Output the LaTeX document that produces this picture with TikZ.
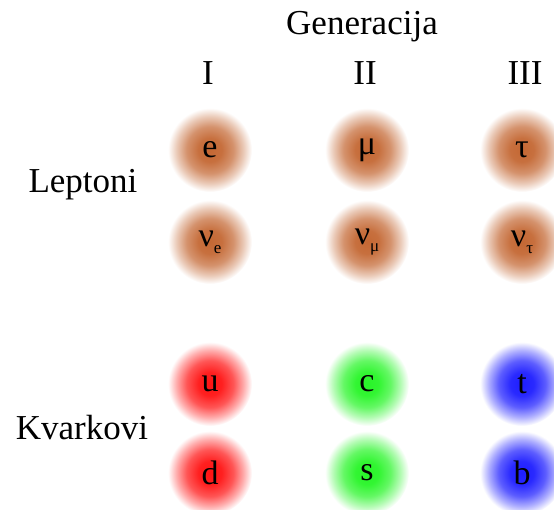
\documentclass[tikz,border=0pt]{standalone}
\usepackage{fontspec}
\setmainfont{Liberation Serif}
\definecolor{leptonbrown}{RGB}{196,104,52}
\definecolor{quarkred}{RGB}{255,20,20}
\definecolor{quarkgreen}{RGB}{40,245,40}
\definecolor{quarkblue}{RGB}{30,30,255}
\pgfdeclareradialshading{brownball}{\pgfpoint{0bp}{0bp}}{color(0bp)=(leptonbrown); color(7bp)=(leptonbrown!95!white); color(14bp)=(leptonbrown!72!white); color(20bp)=(leptonbrown!35!white); color(25bp)=(white); color(50bp)=(white)}
\pgfdeclareradialshading{redball}{\pgfpoint{0bp}{0bp}}{color(0bp)=(quarkred); color(7bp)=(quarkred!95!white); color(14bp)=(quarkred!72!white); color(20bp)=(quarkred!35!white); color(25bp)=(white); color(50bp)=(white)}
\pgfdeclareradialshading{greenball}{\pgfpoint{0bp}{0bp}}{color(0bp)=(quarkgreen); color(7bp)=(quarkgreen!95!white); color(14bp)=(quarkgreen!72!white); color(20bp)=(quarkgreen!35!white); color(25bp)=(white); color(50bp)=(white)}
\pgfdeclareradialshading{blueball}{\pgfpoint{0bp}{0bp}}{color(0bp)=(quarkblue); color(7bp)=(quarkblue!95!white); color(14bp)=(quarkblue!72!white); color(20bp)=(quarkblue!35!white); color(25bp)=(white); color(50bp)=(white)}
\newcommand{\lowsub}[1]{\raisebox{-0.45ex}{\fontsize{17}{17}\selectfont #1}}
\tikzset{
  label text/.style={font=\fontsize{35}{35}\selectfont, inner sep=0pt},
  particle/.style={circle, minimum size=84pt, inner sep=0pt, shade, shading=#1,
    font=\fontsize{34}{34}\selectfont}
}

\begin{document}
\begin{tikzpicture}[x=1pt,y=-1pt]
    \useasboundingbox (0,0) rectangle (554,509);

    % Heading and generation numbers
    \node[label text] (gen) at (362,27) {Generacija};
    \node[label text] (genI) at (208,73) {I};
    \node[label text] (genII) at (365,73) {II};
    \node[label text] (genIII) at (525,73) {III};

    % Row labels
    \node[label text] (lept) at (83,185) {Leptoni};
    \node[label text] (kvark) at (82,428) {Kvarkovi};

    % Leptons
    \node[particle=brownball] (e) at (210,150) {e};
    \node[particle=brownball] (mu) at (367,150) {μ};
    \node[particle=brownball] (tau) at (522,150) {τ};
    \node[particle=brownball] (nue) at (210,242) {ν\lowsub{e}};
    \node[particle=brownball] (numu) at (367,242) {ν\lowsub{μ}};
    \node[particle=brownball] (nutau) at (522,242) {ν\lowsub{τ}};

    % Quarks
    \node[particle=redball] (u) at (210,384) {u};
    \node[particle=greenball] (c) at (367,384) {c};
    \node[particle=blueball] (t) at (522,384) {t};
    \node[particle=redball] (d) at (210,473) {d};
    \node[particle=greenball] (s) at (367,473) {s};
    \node[particle=blueball] (b) at (522,473) {b};
\end{tikzpicture}
\end{document}
